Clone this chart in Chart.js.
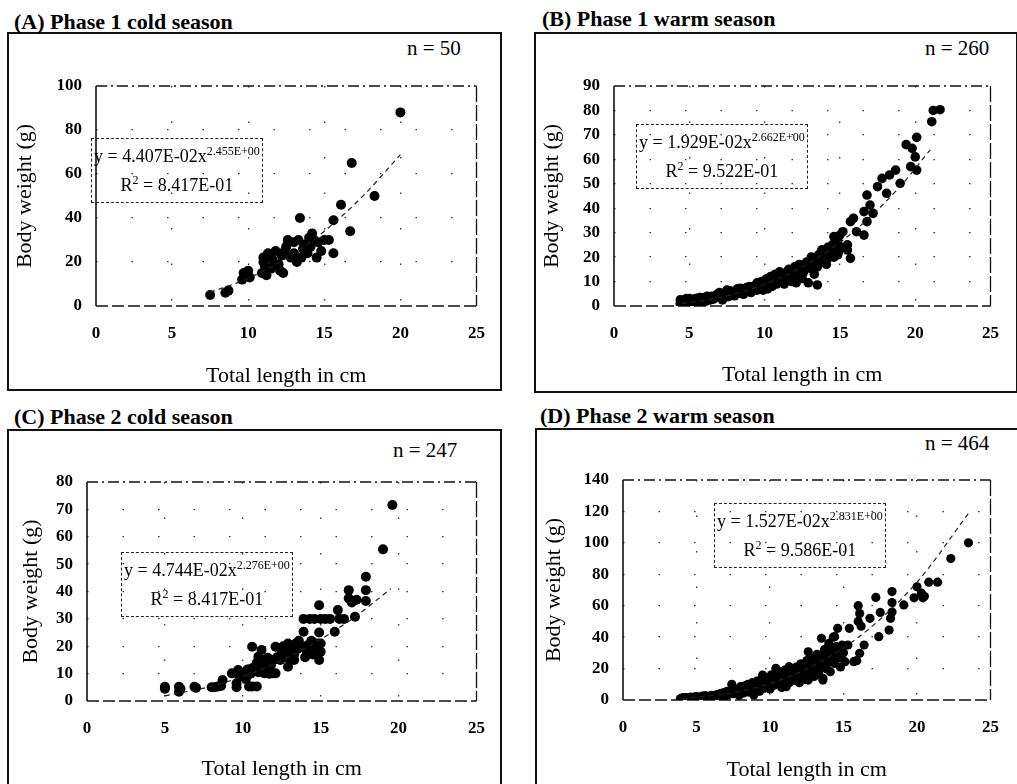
<!DOCTYPE html>
<html><head><meta charset="utf-8">
<script src="https://cdn.jsdelivr.net/npm/chart.js@4.4.1/dist/chart.umd.min.js"></script>
<style>
html,body{margin:0;padding:0;background:#fff;}
body{width:1017px;height:784px;position:relative;overflow:hidden;font-family:"Liberation Serif","Times New Roman",serif;color:#000;}
.frame{position:absolute;border:2px solid #111;box-sizing:border-box;}
.ptitle{position:absolute;font-weight:bold;font-size:22px;line-height:22px;white-space:nowrap;}
.nlab{position:absolute;font-size:21px;line-height:21px;white-space:nowrap;}
.eq{position:absolute;border:1px dashed #222;box-sizing:border-box;font-size:18px;line-height:29px;padding:3px 2px 2px 2px;text-align:center;white-space:nowrap;z-index:5;}
.eq sup{font-size:12px;line-height:0;vertical-align:0.6em;}
canvas{position:absolute;}
</style></head><body>

<div class="frame" style="left:7px;top:32px;width:495px;height:359px;"></div>
<div class="frame" style="left:534px;top:32px;width:484px;height:361px;"></div>
<div class="frame" style="left:7px;top:429px;width:495px;height:360px;"></div>
<div class="frame" style="left:535px;top:428px;width:484px;height:360px;"></div>

<div class="ptitle" style="left:14px;top:11px;">(A) Phase 1 cold season</div>
<div class="ptitle" style="left:542px;top:8px;">(B) Phase 1 warm season</div>
<div class="ptitle" style="left:14px;top:406px;">(C) Phase 2 cold season</div>
<div class="ptitle" style="left:540px;top:405px;">(D) Phase 2 warm season</div>

<div class="nlab" style="left:407px;top:38px;">n = 50</div>
<div class="nlab" style="left:925px;top:38px;">n = 260</div>
<div class="nlab" style="left:393px;top:440px;">n = 247</div>
<div class="nlab" style="left:925px;top:433px;">n = 464</div>

<canvas id="cA" width="494" height="357" style="left:8px;top:33px;"></canvas>
<canvas id="cB" width="481" height="359" style="left:535px;top:33px;"></canvas>
<canvas id="cC" width="494" height="354" style="left:8px;top:430px;"></canvas>
<canvas id="cD" width="480" height="355" style="left:536px;top:429px;"></canvas>

<div class="eq" style="left:91px;top:138px;">y = 4.407E-02x<sup>2.455E+00</sup><br>R<sup>2</sup> = 8.417E-01</div>
<div class="eq" style="left:636px;top:124px;">y = 1.929E-02x<sup>2.662E+00</sup><br>R<sup>2</sup> = 9.522E-01</div>
<div class="eq" style="left:121px;top:552px;">y = 4.744E-02x<sup>2.276E+00</sup><br>R<sup>2</sup> = 8.417E-01</div>
<div class="eq" style="left:714px;top:503px;">y = 1.527E-02x<sup>2.831E+00</sup><br>R<sup>2</sup> = 9.586E-01</div>

<script>
// ---------- data ----------
const LENGTH_TICKS = [0, 5, 10, 15, 20, 25];
const A_WEIGHT_TICKS = [0, 20, 40, 60, 80, 100];
const B_WEIGHT_TICKS = [0, 10, 20, 30, 40, 50, 60, 70, 80, 90];
const C_WEIGHT_TICKS = [0, 10, 20, 30, 40, 50, 60, 70, 80];
const D_WEIGHT_TICKS = [0, 20, 40, 60, 80, 100, 120, 140];

// (A) Phase 1 cold season
const A_len = [7.5, 8.5, 8.7, 9.6, 9.7, 9.8, 10.0, 10.1, 10.9, 11.0, 11.0, 11.1, 11.2, 11.3, 11.5, 11.6, 11.8, 12.0, 12.1, 12.3, 12.4, 12.5, 12.6, 12.8, 13.0, 13.0, 13.2, 13.3, 13.4, 13.5, 13.6, 13.7, 13.9, 14.0, 14.1, 14.2, 14.3, 14.5, 14.6, 14.8, 15.0, 15.3, 15.6, 15.6, 16.1, 16.7, 16.8, 18.3, 20.0, 12.2];
const A_wt  = [5, 6, 7, 12, 15, 14, 16, 13, 15, 20, 22, 18, 14, 24, 17, 21, 25, 19, 16, 15, 25, 27, 30, 22, 24, 29, 20, 30, 40, 22, 26, 28, 24, 31, 27, 33, 30, 22, 29, 25, 30, 30, 24, 39, 46, 34, 65, 50, 88, 23];
const A_fit_len = [7.5, 10, 12.5, 15, 17.5, 20];
const A_fit_wt  = [6.2, 12.6, 21.7, 34.0, 49.7, 68.8];

// (B) Phase 1 warm season
const B_len = [4.4, 4.5, 4.5, 4.6, 4.7, 4.7, 4.8, 4.9, 5.0, 5.0, 5.1, 5.2, 5.3, 5.4, 5.5, 5.6, 5.8, 6.0, 6.1, 6.3,
  6.5, 6.6, 6.8, 7.0, 7.0, 7.2, 7.3, 7.5, 7.6, 7.8, 8.0, 8.0, 8.2, 8.3, 8.5, 8.6, 8.8, 8.9, 9.0, 9.1,
  9.2, 9.4, 9.5, 9.6, 9.7, 9.8, 9.9, 10.0, 10.1, 10.2, 10.3, 10.4, 10.5, 10.6, 10.7, 10.8, 10.9, 11.0, 11.1, 11.2,
  11.3, 11.4, 11.5, 11.6, 11.7, 11.8, 11.9, 12.0, 12.0, 12.1, 12.2, 12.3, 12.4, 12.5, 12.5, 12.6, 12.7, 12.8, 12.9, 13.0,
  13.1, 13.2, 13.3, 13.4, 13.5, 13.5, 13.6, 13.7, 13.8, 13.9, 14.0, 14.1, 14.2, 14.3,
  14.5, 14.6, 14.6, 14.8, 14.85, 14.85, 14.9, 15.0, 15.1, 15.2, 15.5, 15.5, 15.7, 15.7, 15.9, 16.1, 16.6, 16.6, 16.8, 16.8,
  17.0, 17.2, 17.5, 17.8, 18.1, 18.3, 18.7, 19.0, 19.4, 19.7, 19.8, 20.0, 20.1, 20.1, 21.1, 21.2, 21.65,
  4.4, 4.6, 4.8, 5.0, 5.2, 5.5, 5.7, 5.9, 6.2, 6.4, 6.7, 6.9, 7.1, 7.4, 7.7, 7.9, 8.1, 8.4, 8.7, 9.0,
  9.3, 9.5, 9.8, 10.0, 10.2, 10.5, 10.8, 11.0, 11.3, 11.5, 11.8, 12.1, 12.3, 12.6, 12.9, 13.1, 13.3, 13.6, 13.9, 14.2,
  14.4, 14.7];
const B_wt  = [1.0, 2.0, 0.8, 1.5, 2.5, 1.2, 0.6, 2.0, 1.5, 3.0, 2.2, 1.0, 2.8, 2.0, 3.2, 1.8, 2.5, 3.5, 2.0, 3.0,
  4.0, 2.8, 4.5, 3.5, 5.5, 2.5, 4.8, 6.5, 3.8, 5.0, 6.0, 4.2, 7.0, 5.2, 6.5, 4.8, 7.5, 6.0, 8.0, 5.5,
  7.0, 8.5, 6.5, 9.0, 7.5, 10.0, 6.5, 8.5, 11.0, 7.0, 9.5, 12.0, 8.0, 10.5, 13.0, 9.0, 11.5, 14.0, 10.0, 12.5,
  9.0, 13.5, 11.0, 15.0, 12.0, 10.0, 14.0, 16.0, 12.5, 9.5, 15.0, 17.0, 13.0, 11.3, 16.0, 14.0, 17.0, 18.0, 9.5, 15.5,
  20.0, 17.0, 13.0, 19.0, 16.0, 8.6, 21.0, 18.0, 23.0, 19.5, 22.0, 17.0, 24.0, 21.0,
  25.0, 20.0, 28.4, 27.0, 26.3, 20.9, 22.0, 29.0, 24.0, 30.4, 22.9, 25.0, 19.5, 34.5, 35.9, 30.4, 29.0, 38.6, 45.4, 34.5,
  41.3, 37.9, 48.8, 52.2, 46.1, 53.6, 55.6, 50.2, 66.0, 57.0, 64.5, 61.0, 55.6, 69.0, 75.4, 80.0, 80.3,
  2.5, 0.5, 3.0, 0.8, 2.5, 2.3, 3.5, 1.5, 4.0, 2.5, 3.8, 5.0, 4.2, 5.5, 6.2, 4.5, 5.5, 7.2, 6.0, 6.5,
  8.0, 9.5, 8.0, 10.0, 9.0, 11.0, 12.0, 11.0, 12.5, 14.0, 13.0, 14.5, 13.0, 15.0, 16.5, 18.0, 16.0, 19.5, 21.0, 19.5,
  22.5, 24.0];
const B_fit_len = [4.5, 7, 10, 13, 16, 19, 21];
const B_fit_wt  = [1.1, 3.4, 8.9, 17.8, 30.9, 48.9, 63.9];

// (C) Phase 2 cold season
const C_len = [5.0, 5.0, 5.9, 5.9, 6.0, 6.9, 7.0, 8.0, 8.2, 8.4, 8.7, 8.6, 9.6, 9.6, 9.7, 9.8, 10.0, 10.2, 10.4, 10.6,
  10.9, 10.3, 10.5, 10.6, 10.8, 10.9, 11.0, 11.0, 11.1, 11.2, 11.3, 11.4, 11.5, 11.6, 11.7, 11.9, 11.8, 12.0, 12.1, 12.2,
  12.4, 12.5, 12.6, 12.7, 12.9, 12.9, 13.0, 13.1, 13.2, 13.3, 13.4, 13.5, 13.6, 13.7, 13.8, 13.9, 13.9, 14.0, 14.1, 14.2,
  14.3, 14.4, 14.5, 14.6, 14.7, 14.8, 14.9, 14.9, 14.9, 15.0, 15.0, 15.0, 15.3, 15.6, 15.9, 16.1, 16.2, 16.5, 16.8, 16.8,
  17.0, 17.2, 17.3, 17.9, 17.9, 17.9, 19.0, 19.6, 9.3, 9.7, 10.4, 11.4, 12.1, 13.3, 12.8, 10.6, 11.2, 11.3, 11.6, 14.4];
const C_wt  = [5.2, 4.5, 5.2, 3.4, 4.5, 5.2, 4.8, 5.0, 5.0, 5.3, 7.7, 5.5, 6.5, 5.0, 10.1, 9.0, 10.0, 8.0, 5.3, 5.3,
  5.3, 11.5, 10.0, 12.0, 12.5, 14.0, 16.2, 10.5, 13.0, 15.0, 11.0, 14.0, 12.5, 15.5, 10.0, 10.1, 13.0, 15.0, 19.8, 16.0,
  15.0, 18.0, 20.0, 16.0, 12.5, 21.0, 18.0, 15.0, 20.0, 17.0, 21.0, 19.0, 22.0, 20.0, 19.8, 25.3, 30.0, 16.0, 18.0, 20.5,
  30.0, 22.0, 17.0, 30.0, 19.0, 21.0, 35.0, 25.0, 15.0, 21.0, 30.0, 18.0, 30.0, 30.0, 25.3, 33.2, 30.0, 30.0, 40.5, 37.5,
  36.0, 30.8, 37.0, 45.4, 40.5, 36.5, 55.4, 71.6, 10.1, 11.3, 10.7, 10.1, 10.1, 15.0, 16.2, 19.8, 18.6, 14.6, 15.8, 17.4];
const C_fit_len = [5, 8, 11, 14, 17, 19.5];
const C_fit_wt  = [1.9, 5.4, 11.1, 19.3, 29.9, 41.0];

// (D) Phase 2 warm season
const D_len = [3.9, 4.0, 4.2, 4.3, 4.5, 4.6, 4.8, 5.0, 5.0, 5.2, 5.3, 5.5, 5.6, 5.8, 6.0, 6.0, 6.2, 6.4, 6.5, 6.7,
  6.8, 7.0, 7.0, 7.2, 7.3, 7.4, 7.5, 7.6, 7.8, 7.9, 8.0, 8.1, 8.2, 8.3, 8.4, 8.5, 8.6, 8.7, 8.8, 8.9,
  9.0, 9.1, 9.2, 9.3, 9.4, 9.5, 9.5, 9.6, 9.7, 9.8, 9.9, 10.0, 10.0, 10.1, 10.2, 10.3, 10.4, 10.4, 10.5, 10.6,
  10.7, 10.8, 10.9, 11.0, 11.1, 11.1, 11.2, 11.3, 11.3, 11.4, 11.5, 11.6, 11.7, 11.8, 11.9, 12.0, 12.0, 12.1, 12.2, 12.3,
  12.4, 12.5, 12.6, 12.6, 12.7, 12.8, 12.9, 13.0, 13.0, 13.1, 13.2, 13.3, 13.4, 13.5, 13.5, 13.6, 13.6, 13.7, 13.8, 13.9,
  14.0, 14.0, 14.1, 14.2, 14.3, 14.4, 14.4, 14.5, 14.6, 14.7, 14.8, 14.9, 15.0, 15.1, 15.3, 15.4, 15.7, 15.9, 16.1, 16.4,
  16.0, 16.1, 16.0, 16.2, 16.8, 17.2, 17.4, 17.5, 18.1, 18.3, 18.3, 18.3, 18.2, 19.1, 19.8, 20.0, 20.3, 20.5, 20.4, 20.8,
  21.4, 22.3, 23.5,
  4.1, 4.4, 4.7, 4.9, 5.4, 5.7, 6.1, 6.3, 6.6, 6.9, 7.1, 7.7, 8.0, 8.3, 8.6, 8.9, 9.1, 9.3, 9.6, 9.9,
  10.1, 10.3, 10.6, 10.8, 11.0, 11.2, 11.5, 11.7, 11.9, 12.2, 12.4, 12.7, 13.0, 13.2, 13.4, 13.7, 13.9, 14.2, 14.5, 14.8];
const D_wt  = [0.8, 1.2, 0.5, 1.5, 1.0, 1.8, 0.8, 1.5, 2.2, 1.0, 2.0, 1.5, 2.8, 2.0, 1.5, 3.0, 2.5, 3.5, 2.0, 3.0,
  4.5, 2.5, 5.0, 3.5, 6.0, 10.0, 4.0, 7.0, 5.3, 3.0, 6.5, 8.0, 4.5, 9.0, 6.0, 10.0, 5.0, 8.0, 11.0, 3.2,
  7.0, 12.0, 9.0, 5.5, 13.0, 15.9, 10.0, 7.5, 12.0, 9.0, 14.0, 11.0, 7.0, 16.0, 13.0, 9.5, 20.2, 15.0, 11.5, 18.0,
  13.5, 8.0, 16.0, 19.0, 8.5, 14.0, 17.5, 21.2, 11.0, 15.5, 19.0, 12.5, 17.0, 21.0, 14.0, 18.5, 11.0, 23.0, 15.5, 20.0,
  13.0, 25.0, 30.7, 12.7, 17.0, 22.0, 27.0, 15.0, 19.5, 24.0, 29.0, 17.0, 22.0, 39.3, 26.0, 13.8, 12.7, 32.0, 20.0, 28.0,
  36.0, 24.0, 18.0, 31.0, 40.0, 23.3, 40.3, 34.0, 45.6, 27.0, 21.0, 35.0, 30.0, 24.4, 35.0, 45.6, 24.4, 25.0, 29.7, 35.0,
  60.0, 55.0, 50.0, 47.0, 52.0, 65.3, 40.3, 55.7, 44.5, 69.0, 62.0, 56.0, 52.0, 60.5, 65.0, 72.0, 68.0, 66.0, 65.0, 75.0,
  75.0, 90.0, 100.0,
  1.5, 0.8, 1.2, 2.0, 2.5, 1.5, 2.0, 3.0, 4.0, 3.5, 5.5, 4.5, 8.5, 6.5, 7.5, 9.0, 8.0, 11.0, 10.0, 12.5,
  9.0, 13.5, 12.0, 15.0, 13.0, 16.0, 15.0, 19.0, 17.0, 20.0, 18.0, 22.0, 24.0, 20.0, 28.0, 25.0, 33.0, 27.0, 30.0, 33.0];
const D_fit_len = [4, 8, 12, 16, 20, 23.6];
const D_fit_wt  = [0.8, 5.6, 17.6, 39.8, 75.0, 120.0];

// ---------- drawing ----------
const SERIF = '"Liberation Serif", "Times New Roman", serif';

const plotFrame = {
  id: 'plotFrame',
  beforeDatasetsDraw(chart) {
    const {ctx, chartArea: {left, right, top, bottom}} = chart;
    ctx.save();
    ctx.strokeStyle = '#111';
    const seg = (x1, y1, x2, y2) => { ctx.beginPath(); ctx.moveTo(x1, y1); ctx.lineTo(x2, y2); ctx.stroke(); };
    ctx.lineWidth = 1.6; ctx.setLineDash([]);
    seg(left, top, left, bottom);
    ctx.lineWidth = 1.3; ctx.setLineDash([16, 3]);
    seg(right, top, right, bottom);
    ctx.setLineDash([11, 4, 2, 4]);
    seg(left, top, right, top);
    ctx.setLineDash([12, 4]);
    seg(left, bottom, right, bottom);
    ctx.restore();
  }
};

function pairs(xs, ys) { return xs.map((x, i) => ({x: x, y: ys[i]})); }

function makeChart(id, len, wt, fitLen, fitWt, yTicks, g) {
  const edgeless = (c) => (c.index === 0 || c.index === c.scale.ticks.length - 1) ? 'rgba(0,0,0,0)' : '#333';
  new Chart(document.getElementById(id), {
    type: 'scatter',
    data: {
      datasets: [
        { type: 'line', data: pairs(fitLen, fitWt), borderColor: '#222', borderWidth: 1.2,
          borderDash: [5, 4], pointRadius: 0, fill: false, cubicInterpolationMode: 'monotone', order: 0 },
        { data: pairs(len, wt), backgroundColor: '#000', borderWidth: 0, pointRadius: g.r, order: 1 }
      ]
    },
    options: {
      responsive: false, animation: false, devicePixelRatio: 1,
      layout: { padding: { top: g.pt, right: g.pr, left: 0, bottom: 0 } },
      plugins: { legend: { display: false }, tooltip: { enabled: false } },
      scales: {
        x: {
          type: 'linear', min: LENGTH_TICKS[0], max: LENGTH_TICKS[LENGTH_TICKS.length - 1],
          afterBuildTicks: (s) => { s.ticks = LENGTH_TICKS.map(v => ({value: v})); },
          afterFit: (s) => { s.height = g.xh; },
          ticks: { color: '#000', padding: 17, font: { family: SERIF, size: 17, weight: 'bold' } },
          grid: { color: edgeless, lineWidth: 1.3, drawTicks: false },
          border: { display: false, dash: [1.5, 34] },
          title: { display: true, text: 'Total length in cm', color: '#000',
                   font: { family: SERIF, size: 22 }, padding: { top: 0, bottom: g.tb } }
        },
        y: {
          type: 'linear', min: yTicks[0], max: yTicks[yTicks.length - 1],
          afterBuildTicks: (s) => { s.ticks = yTicks.map(v => ({value: v})); },
          afterFit: (s) => { s.width = g.yw; },
          ticks: { color: '#000', padding: 14, font: { family: SERIF, size: 17, weight: 'bold' } },
          grid: { color: edgeless, lineWidth: 1.3, drawTicks: false },
          border: { display: false, dash: [1.5, 34] },
          title: { display: true, text: 'Body weight (g)', color: '#000',
                   font: { family: SERIF, size: 22 }, padding: { top: g.tl, bottom: 0 } }
        }
      }
    },
    plugins: [plotFrame]
  });
}

makeChart('cA', A_len, A_wt, A_fit_len, A_fit_wt, A_WEIGHT_TICKS, {yw: 88, xh: 84, pt: 53, pr: 22, tb: 1, tl: 4, r: 5});
makeChart('cB', B_len, B_wt, B_fit_len, B_fit_wt, B_WEIGHT_TICKS, {yw: 79, xh: 86, pt: 53, pr: 16, tb: 4, tl: 4, r: 4.8});
makeChart('cC', C_len, C_wt, C_fit_len, C_fit_wt, C_WEIGHT_TICKS, {yw: 79, xh: 83, pt: 52, pr: 22, tb: 2, tl: 10, r: 5});
makeChart('cD', D_len, D_wt, D_fit_len, D_fit_wt, D_WEIGHT_TICKS, {yw: 87, xh: 84, pt: 51, pr: 16, tb: 1, tl: 5, r: 4.6});
</script>
</body></html>
